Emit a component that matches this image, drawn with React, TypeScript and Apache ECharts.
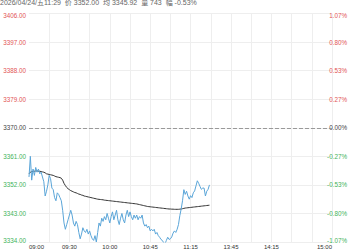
import React, { useEffect, useRef } from "react";
import * as echarts from "echarts";

const preClose = 3370;
const titleText = "2026/04/24/五11:29  价 3352.00  均 3345.92  量 743  幅 -0.53%";

const xTickIdx = [0, 30, 60, 90, 120, 150, 180, 225];
const xTickLabels = ["09:00", "09:30", "10:00", "10:45", "11:15", "13:45", "14:15", "15:00"];

const priceValues = [
  3354.5, 3361, 3353.5, 3357, 3355, 3357.5, 3356, 3357, 3355.5, 3356,
  3354.5, 3353, 3348.5, 3350, 3352, 3355, 3354, 3351, 3350.5, 3348,
  3347, 3349.5, 3349, 3348, 3347, 3344, 3340, 3338, 3339.5, 3341,
  3342.5, 3344, 3342.5, 3340, 3339, 3340.5, 3339.5, 3337, 3335, 3336.5,
  3338.5, 3337.5, 3337, 3338, 3336.5, 3337.5, 3336, 3335, 3334.5, 3336,
  3334, 3337, 3340, 3339, 3341.5, 3340.5, 3342, 3341, 3343, 3341.5,
  3340, 3342, 3343.5, 3341, 3342.5, 3344, 3341, 3339.5, 3341.5, 3343,
  3341, 3340, 3342.5, 3344, 3342, 3343.5, 3342, 3341, 3342.5, 3341.5,
  3342.5, 3341, 3342, 3341.5, 3342.5, 3340, 3339, 3339.5, 3338.5, 3339,
  3337.5, 3338, 3337.5, 3338, 3336.5, 3337, 3336, 3335.5, 3334.8, 3334.5,
  3333.8, 3333.4, 3334.5, 3335.5, 3334.8, 3335, 3335.6, 3336.8, 3337.5, 3337,
  3338, 3339.5, 3342.3, 3344.4, 3347, 3350.5, 3349, 3350, 3348.5, 3347.5,
  3348.6, 3348, 3349.5, 3350.1, 3351.7, 3353.3, 3352.5, 3351.5, 3350.6, 3351,
  3351, 3348.5, 3350, 3350.6, 3352,
];

const avgValues = [
  3355.5, 3356, 3356.2, 3356.3, 3356.3, 3356.4, 3356.4, 3356.3, 3356.3, 3356.2, 3356.1, 3356, 3355.8,
  3355.5, 3355.4, 3355.3, 3355.2, 3355.1, 3355, 3354.8, 3354.6, 3354.5, 3354.4, 3354.3, 3354.1,
  3353.5, 3352.5, 3351.8, 3351.2, 3350.8, 3350.5, 3350.2,
  3350, 3349.8, 3349.6, 3349.5, 3349.3, 3349.1, 3349, 3348.8, 3348.7, 3348.5, 3348.4, 3348.3, 3348.2,
  3348.1, 3348, 3347.9, 3347.8, 3347.7, 3347.6, 3347.5, 3347.45, 3347.4, 3347.35, 3347.3, 3347.2, 3347.15, 3347.1, 3347.05, 3347,
  3346.95, 3346.9, 3346.85, 3346.8, 3346.75, 3346.7, 3346.65, 3346.6, 3346.55, 3346.5, 3346.45, 3346.4, 3346.35, 3346.3, 3346.25, 3346.2, 3346.15, 3346.1, 3346.05, 3346,
  3345.9, 3345.8, 3345.7, 3345.6, 3345.5, 3345.4, 3345.3, 3345.2, 3345.15, 3345.1, 3345.05, 3345, 3344.95, 3344.9, 3344.85, 3344.8, 3344.75, 3344.7, 3344.65, 3344.6,
  3344.55, 3344.5, 3344.45, 3344.4, 3344.4, 3344.35, 3344.35, 3344.3, 3344.3, 3344.3, 3344.3, 3344.35, 3344.4, 3344.5, 3344.6,
  3344.7, 3344.75, 3344.8, 3344.85, 3344.9, 3344.95, 3345, 3345.05, 3345.1, 3345.15, 3345.2, 3345.25, 3345.3, 3345.35, 3345.4, 3345.45, 3345.5, 3345.55, 3345.6,
];

const RED = "#e25555";
const GREEN = "#44b35a";
const ZERO = "#444";
const FONT = "'Liberation Sans', Arial, 'Noto Sans CJK SC', sans-serif";

export default function App() {
  const ref = useRef<HTMLDivElement>(null);
  useEffect(() => {
    document.body.style.margin = "0";
    if (!ref.current) return;
    const chart = echarts.init(ref.current, undefined, { renderer: "svg" });
    const span = 36;
    const colorOf = (v: any) => {
      const n = Number(v);
      return n > 0 ? RED : n < 0 ? GREEN : ZERO;
    };
    const wrap = (v: number, txt: string) =>
      v >= span ? `{t|${txt}}` : v <= -span ? `{b|${txt}}` : txt;
    const rich = {
      t: { color: RED, padding: [4, 0, 0, 0], fontSize: 6.3, fontFamily: FONT },
      b: { color: GREEN, padding: [0, 0, 4, 0], fontSize: 6.3, fontFamily: FONT },
    };
    chart.setOption({
      animation: false,
      grid: { left: 29, right: 18, top: 13.6, bottom: 7, containLabel: false },
      graphic: [
        {
          type: "text",
          x: 0,
          y: 2.5,
          style: {
            text: titleText,
            fontSize: 7,
            fontFamily: FONT,
            fill: "#666",
            verticalAlign: "middle",
          },
        },
      ],
      xAxis: {
        type: "value",
        min: 0,
        max: 225,
        interval: 15,
        axisLine: { show: false },
        axisTick: { show: false },
        splitLine: {
          show: true,
          showMinLine: false,
          lineStyle: { color: "#eeeeee", width: 1 },
        },
        axisLabel: {
          margin: 2,
          fontSize: 6,
          fontFamily: FONT,
          color: "#333",
          alignMinLabel: "left",
          alignMaxLabel: "right",
          formatter: (v: number) => {
            const k = xTickIdx.indexOf(Math.round(v));
            return k >= 0 ? xTickLabels[k] : "";
          },
        },
      },
      yAxis: [
        {
          type: "value",
          min: -span,
          max: span,
          interval: 9,
          axisLine: { show: false },
          axisTick: { show: false },
          splitLine: { show: true, lineStyle: { color: "#eeeeee", width: 1 } },
          axisLabel: {
            margin: 3,
            fontSize: 6.3,
            fontFamily: FONT,
            color: colorOf,
            formatter: (v: number) => wrap(v, (preClose + v).toFixed(2)),
            rich,
          },
        },
        {
          type: "value",
          position: "right",
          min: -span,
          max: span,
          interval: 9,
          axisLine: { show: false },
          axisTick: { show: false },
          splitLine: { show: false },
          axisLabel: {
            margin: 15,
            align: "right",
            fontSize: 6.3,
            fontFamily: FONT,
            color: colorOf,
            formatter: (v: number) => wrap(v, ((v / preClose) * 100).toFixed(2) + "%"),
            rich,
          },
        },
      ],
      series: [
        {
          type: "line",
          name: "price",
          data: priceValues.map((v, i) => [i, v - preClose]),
          showSymbol: false,
          lineStyle: { color: "#5aa5d8", width: 1 },
          itemStyle: { color: "#5aa5d8" },
          z: 3,
          markLine: {
            silent: true,
            symbol: "none",
            label: { show: false },
            lineStyle: { color: "#999", type: "dashed", width: 1 },
            data: [{ yAxis: 0 }],
          },
        },
        {
          type: "line",
          name: "avg",
          data: avgValues.map((v, i) => [i, v - preClose]),
          showSymbol: false,
          lineStyle: { color: "#333", width: 1 },
          itemStyle: { color: "#333" },
          z: 2,
        },
      ],
    });
    return () => chart.dispose();
  }, []);
  return <div ref={ref} style={{ width: 350, height: 250 }} />;
}
